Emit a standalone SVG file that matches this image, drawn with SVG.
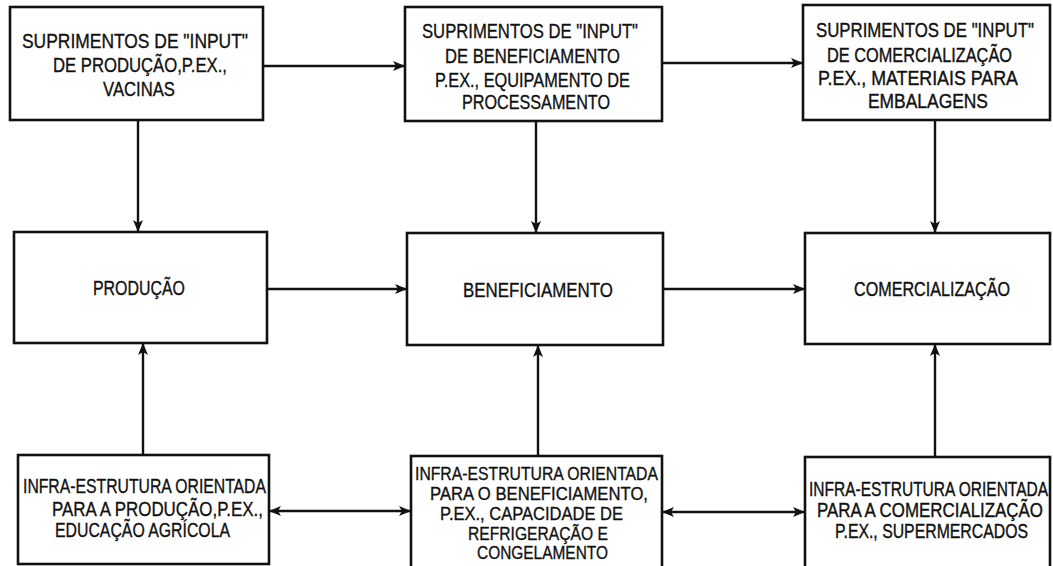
<svg xmlns="http://www.w3.org/2000/svg" width="1053" height="566" viewBox="0 0 1053 566">
  <style>
    .box { fill: #ffffff; stroke: #111111; stroke-width: 2.6; }
    .lbl { font-family: "Liberation Sans", Arial, sans-serif; font-size: 21px; fill: #111111; stroke: #111111; stroke-width: 0.35; }
    .tight { font-size: 19px; }
    /* smaller face, stretched vertically back to the same cap height */
    .tall { font-size: 15.5px; stroke-width: 0.3; }
    .wire { fill: none; stroke: #111111; stroke-width: 2.4; }
  </style>
  <defs>
    <marker id="head" viewBox="0 0 12 10" refX="12" refY="5" markerWidth="13" markerHeight="10" markerUnits="userSpaceOnUse" orient="auto-start-reverse">
      <path d="M0,0 L12,5 L0,10 L3,5 Z" fill="#111111"/>
    </marker>
  </defs>
  <rect width="1053" height="566" fill="#ffffff"/>

  <g id="connectors">
    <path class="wire" d="M263,66 L405,66" marker-end="url(#head)"/>
    <path class="wire" d="M662,63 L803,63" marker-end="url(#head)"/>
    <path class="wire" d="M138,120 L138,232" marker-end="url(#head)"/>
    <path class="wire" d="M536,121 L536,233" marker-end="url(#head)"/>
    <path class="wire" d="M935,120 L935,233" marker-end="url(#head)"/>
    <path class="wire" d="M267,289 L407,289" marker-end="url(#head)"/>
    <path class="wire" d="M663,289 L805,289" marker-end="url(#head)"/>
    <path class="wire" d="M143,455 L143,343" marker-end="url(#head)"/>
    <path class="wire" d="M538,456 L538,345" marker-end="url(#head)"/>
    <path class="wire" d="M935,457 L935,344" marker-end="url(#head)"/>
    <path class="wire" d="M269,511 L411,511" marker-start="url(#head)" marker-end="url(#head)"/>
    <path class="wire" d="M662,512 L805,512" marker-start="url(#head)" marker-end="url(#head)"/>
  </g>

  <g id="input-producao">
    <rect class="box" x="10" y="7" width="253" height="113"/>
    <text class="lbl" x="22" y="48" textLength="226" lengthAdjust="spacingAndGlyphs">SUPRIMENTOS DE "INPUT"</text>
    <text class="lbl" x="53" y="72" textLength="174" lengthAdjust="spacingAndGlyphs">DE PRODUÇÃO,P.EX.,</text>
    <text class="lbl" x="103" y="96" textLength="72" lengthAdjust="spacingAndGlyphs">VACINAS</text>
  </g>

  <g id="input-beneficiamento">
    <rect class="box" x="405" y="7" width="257" height="114"/>
    <text class="lbl" x="422" y="38" textLength="216" lengthAdjust="spacingAndGlyphs">SUPRIMENTOS DE "INPUT"</text>
    <text class="lbl" x="445" y="63" textLength="175" lengthAdjust="spacingAndGlyphs">DE BENEFICIAMENTO</text>
    <text class="lbl" x="435" y="87" textLength="195" lengthAdjust="spacingAndGlyphs">P.EX., EQUIPAMENTO DE</text>
    <text class="lbl" x="462" y="109" textLength="148" lengthAdjust="spacingAndGlyphs">PROCESSAMENTO</text>
  </g>

  <g id="input-comercializacao">
    <rect class="box" x="803" y="5" width="247" height="115"/>
    <text class="lbl tall" x="816" y="37" transform="matrix(1 0 0 1.355 0 -13.135)" textLength="218" lengthAdjust="spacingAndGlyphs">SUPRIMENTOS DE "INPUT"</text>
    <text class="lbl tall" x="827" y="62" transform="matrix(1 0 0 1.355 0 -22.01)" textLength="185" lengthAdjust="spacingAndGlyphs">DE COMERCIALIZAÇÃO</text>
    <text class="lbl tall" x="818" y="85" transform="matrix(1 0 0 1.355 0 -30.175)" textLength="200" lengthAdjust="spacingAndGlyphs">P.EX., MATERIAIS PARA</text>
    <text class="lbl tall" x="868" y="108" transform="matrix(1 0 0 1.355 0 -38.34)" textLength="120" lengthAdjust="spacingAndGlyphs">EMBALAGENS</text>
  </g>

  <g id="producao">
    <rect class="box" x="14" y="232" width="253" height="111"/>
    <text class="lbl" x="93" y="295" textLength="92" lengthAdjust="spacingAndGlyphs">PRODUÇÃO</text>
  </g>

  <g id="beneficiamento">
    <rect class="box" x="407" y="233" width="256" height="112"/>
    <text class="lbl" x="463" y="297" textLength="150" lengthAdjust="spacingAndGlyphs">BENEFICIAMENTO</text>
  </g>

  <g id="comercializacao">
    <rect class="box" x="805" y="233" width="245" height="111"/>
    <text class="lbl tall" x="854" y="296" transform="matrix(1 0 0 1.355 0 -105.08)" textLength="156" lengthAdjust="spacingAndGlyphs">COMERCIALIZAÇÃO</text>
  </g>

  <g id="infra-producao">
    <rect class="box" x="18" y="455" width="251" height="109"/>
    <text class="lbl" x="23" y="493" textLength="243" lengthAdjust="spacingAndGlyphs">INFRA-ESTRUTURA ORIENTADA</text>
    <text class="lbl" x="52" y="516" textLength="211" lengthAdjust="spacingAndGlyphs">PARA A PRODUÇÃO,P.EX.,</text>
    <text class="lbl" x="55" y="537" textLength="175" lengthAdjust="spacingAndGlyphs">EDUCAÇÃO AGRÍCOLA</text>
  </g>

  <g id="infra-beneficiamento">
    <rect class="box" x="411" y="456" width="251" height="114"/>
    <text class="lbl tight" x="415" y="480" textLength="243" lengthAdjust="spacingAndGlyphs">INFRA-ESTRUTURA ORIENTADA</text>
    <text class="lbl tight" x="430" y="500" textLength="218" lengthAdjust="spacingAndGlyphs">PARA O BENEFICIAMENTO,</text>
    <text class="lbl tight" x="440" y="520" textLength="183" lengthAdjust="spacingAndGlyphs">P.EX., CAPACIDADE DE</text>
    <text class="lbl tight" x="468" y="540" textLength="140" lengthAdjust="spacingAndGlyphs">REFRIGERAÇÃO E</text>
    <text class="lbl tight" x="477" y="559" textLength="131" lengthAdjust="spacingAndGlyphs">CONGELAMENTO</text>
  </g>

  <g id="infra-comercializacao">
    <rect class="box" x="805" y="457" width="245" height="113"/>
    <text class="lbl tall" x="809" y="496" transform="matrix(1 0 0 1.355 0 -176.08)" textLength="239" lengthAdjust="spacingAndGlyphs">INFRA-ESTRUTURA ORIENTADA</text>
    <text class="lbl tall" x="817" y="517" transform="matrix(1 0 0 1.355 0 -183.535)" textLength="226" lengthAdjust="spacingAndGlyphs">PARA A COMERCIALIZAÇÃO</text>
    <text class="lbl tall" x="835" y="538" transform="matrix(1 0 0 1.355 0 -190.99)" textLength="193" lengthAdjust="spacingAndGlyphs">P.EX., SUPERMERCADOS</text>
  </g>
</svg>
